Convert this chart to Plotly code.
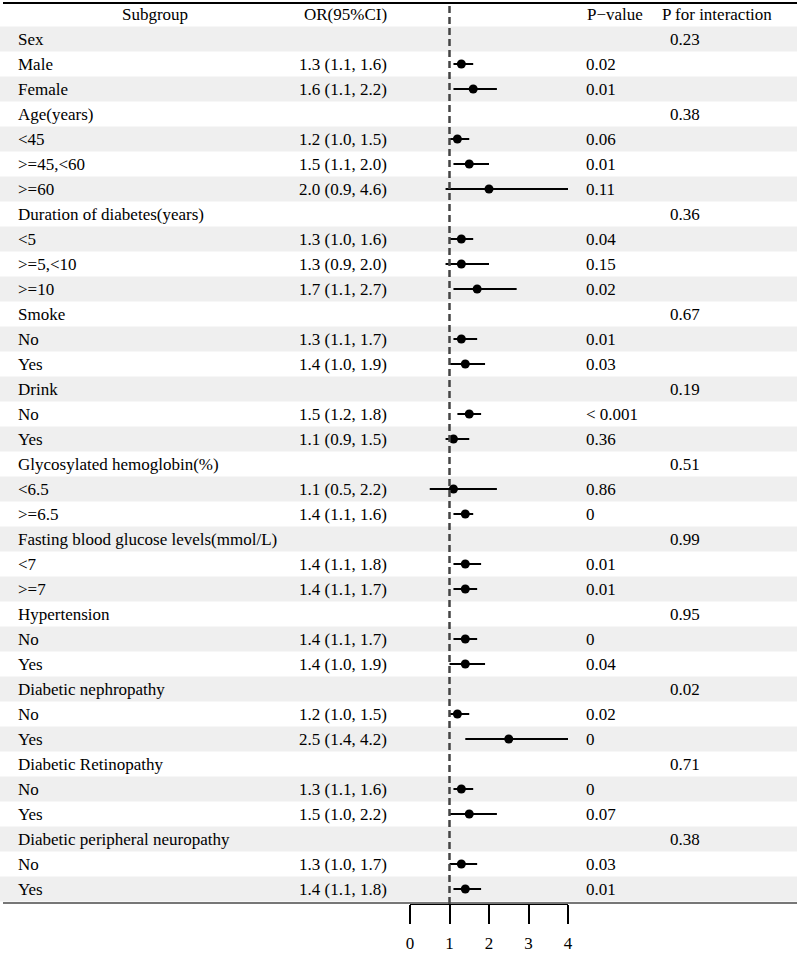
import plotly.graph_objects as go

# ---- data ----
labels = ["Sex", "Male", "Female",
          "Age(years)", "<45", ">=45,<60", ">=60",
          "Duration of diabetes(years)", "<5", ">=5,<10", ">=10",
          "Smoke", "No", "Yes",
          "Drink", "No", "Yes",
          "Glycosylated hemoglobin(%)", "<6.5", ">=6.5",
          "Fasting blood glucose levels(mmol/L)", "<7", ">=7",
          "Hypertension", "No", "Yes",
          "Diabetic nephropathy", "No", "Yes",
          "Diabetic Retinopathy", "No", "Yes",
          "Diabetic peripheral neuropathy", "No", "Yes"]
or_est = [None, 1.3, 1.6,
          None, 1.2, 1.5, 2.0,
          None, 1.3, 1.3, 1.7,
          None, 1.3, 1.4,
          None, 1.5, 1.1,
          None, 1.1, 1.4,
          None, 1.4, 1.4,
          None, 1.4, 1.4,
          None, 1.2, 2.5,
          None, 1.3, 1.5,
          None, 1.3, 1.4]
ci_low = [None, 1.1, 1.1,
          None, 1.0, 1.1, 0.9,
          None, 1.0, 0.9, 1.1,
          None, 1.1, 1.0,
          None, 1.2, 0.9,
          None, 0.5, 1.1,
          None, 1.1, 1.1,
          None, 1.1, 1.0,
          None, 1.0, 1.4,
          None, 1.1, 1.0,
          None, 1.0, 1.1]
ci_high = [None, 1.6, 2.2,
           None, 1.5, 2.0, 4.6,
           None, 1.6, 2.0, 2.7,
           None, 1.7, 1.9,
           None, 1.8, 1.5,
           None, 2.2, 1.6,
           None, 1.8, 1.7,
           None, 1.7, 1.9,
           None, 1.5, 4.2,
           None, 1.6, 2.2,
           None, 1.7, 1.8]
p_value = ["", "0.02", "0.01",
           "", "0.06", "0.01", "0.11",
           "", "0.04", "0.15", "0.02",
           "", "0.01", "0.03",
           "", "< 0.001", "0.36",
           "", "0.86", "0",
           "", "0.01", "0.01",
           "", "0", "0.04",
           "", "0.02", "0",
           "", "0", "0.07",
           "", "0.03", "0.01"]
p_inter = ["0.23", "", "",
           "0.38", "", "", "",
           "0.36", "", "", "",
           "0.67", "", "",
           "0.19", "", "",
           "0.51", "", "",
           "0.99", "", "",
           "0.95", "", "",
           "0.02", "", "",
           "0.71", "", "",
           "0.38", "", ""]
headers = ["Subgroup", "OR(95%CI)", "P\u2212value", "P for interaction"]
x_ticks = [0, 1, 2, 3, 4]

W, H = 797, 955
FONT = "Liberation Serif, Times New Roman, serif"
FS = 17
n = len(labels)
rows = list(range(n))


def px(x):
    return x / W


def py(y):
    return 1 - y / H


fig = go.Figure()

ys = [i for i in rows if or_est[i] is not None]
xs = [or_est[i] for i in ys]
eplus = [ci_high[i] - or_est[i] for i in ys]
eminus = [or_est[i] - ci_low[i] for i in ys]

fig.add_trace(go.Scatter(
    x=xs, y=ys, mode="markers",
    marker=dict(color="black", size=9),
    error_x=dict(type="data", array=eplus, arrayminus=eminus, symmetric=False,
                 thickness=2, width=0, color="black"),
    showlegend=False, hoverinfo="skip", cliponaxis=True))

shapes = []
# shading of alternate rows
for i in rows:
    if i % 2 == 0:
        shapes.append(dict(type="rect", xref="paper", yref="y",
                           x0=0, x1=1, y0=i - 0.5, y1=i + 0.5,
                           fillcolor="#efefef", line=dict(width=0), layer="below"))
# top rule
shapes.append(dict(type="line", xref="paper", yref="paper", x0=px(3), x1=1,
                   y0=py(3), y1=py(3), line=dict(color="black", width=2)))
# bottom rule
shapes.append(dict(type="line", xref="paper", yref="paper", x0=px(3), x1=1,
                   y0=py(903), y1=py(903), line=dict(color="#777777", width=2)))
# reference line
shapes.append(dict(type="line", xref="x", yref="paper", x0=1, x1=1,
                   y0=py(904), y1=py(3),
                   line=dict(color="#444444", width=2.5, dash="7px,4px")))

annotations = []
font = dict(family=FONT, size=FS, color="black")
# headers
annotations.append(dict(x=px(155), y=-1, xref="paper", yref="y", text=headers[0],
                        showarrow=False, xanchor="center", font=font))
annotations.append(dict(x=px(389), y=-1, xref="paper", yref="y", text=headers[1],
                        showarrow=False, xanchor="right", font=font))
annotations.append(dict(x=px(585), y=-1, xref="paper", yref="y", text=headers[2],
                        showarrow=False, xanchor="left", font=font))
annotations.append(dict(x=px(660), y=-1, xref="paper", yref="y", text=headers[3],
                        showarrow=False, xanchor="left", font=font))
for i in rows:
    annotations.append(dict(x=px(16), y=i, xref="paper", yref="y", text=labels[i],
                            showarrow=False, xanchor="left", font=font))
    if or_est[i] is not None:
        txt = f"{or_est[i]:.1f} ({ci_low[i]:.1f}, {ci_high[i]:.1f})"
        annotations.append(dict(x=px(389), y=i, xref="paper", yref="y", text=txt,
                                showarrow=False, xanchor="right", font=font))
    if p_value[i]:
        annotations.append(dict(x=px(584), y=i, xref="paper", yref="y", text=p_value[i],
                                showarrow=False, xanchor="left", font=font))
    if p_inter[i]:
        annotations.append(dict(x=px(668), y=i, xref="paper", yref="y", text=p_inter[i],
                                showarrow=False, xanchor="left", font=font))

fig.update_layout(
    width=W, height=H,
    margin=dict(l=0, r=0, t=0, b=0),
    paper_bgcolor="white", plot_bgcolor="rgba(0,0,0,0)",
    shapes=shapes, annotations=annotations,
    xaxis=dict(domain=[px(410), px(568)], range=[0, 4], anchor="free", position=py(904),
               automargin=False,
               showgrid=False, zeroline=False, showline=True, linecolor="black", linewidth=2,
               ticks="outside", ticklen=19, tickwidth=2, tickcolor="black",
               tickvals=x_ticks, ticktext=[str(t) for t in x_ticks],
               tickfont=dict(family=FONT, size=FS, color="black"), ticklabelstandoff=5),
    yaxis=dict(domain=[0, 1], range=[(H - 39) / 25, -39 / 25], visible=False,
               automargin=False, showgrid=False, zeroline=False),
)

fig.write_html("out.html")
